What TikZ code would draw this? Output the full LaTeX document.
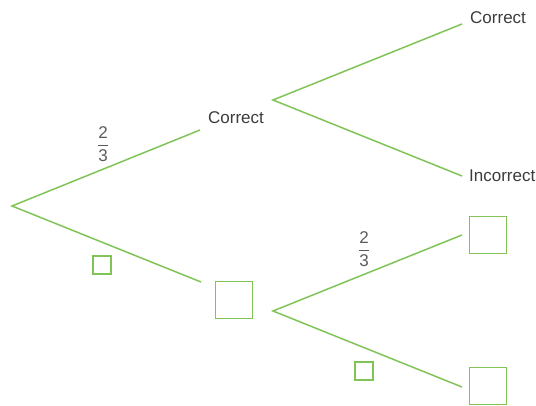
\documentclass[tikz,border=0pt]{standalone}
\usepackage{fontspec}
\usepackage{amsmath}
\setmainfont{Liberation Sans}
\definecolor{branch}{RGB}{128,196,88}
\definecolor{txt}{RGB}{60,60,60}
\definecolor{frac}{RGB}{90,90,90}
\begin{document}
\begin{tikzpicture}[x=1pt,y=-1pt,
  br/.style={draw=branch,line width=1.5pt},
  lab/.style={inner sep=0pt,text=txt,font=\fontsize{17}{17}\selectfont},
  bigbox/.style={draw=branch,line width=1.4pt,minimum width=37pt,minimum height=37pt,inner sep=0pt},
  smallbox/.style={draw=branch,line width=1.3pt,minimum width=18pt,minimum height=18pt,inner sep=0pt},
  fr/.style={inner sep=0pt,text=frac,font=\fontsize{17}{17}\selectfont}]
\useasboundingbox (0,0) rectangle (536,406);
\coordinate (root) at (12,206);
\coordinate (c1end) at (200,130);
\coordinate (b1end) at (201,282);
\coordinate (c1) at (273,100);
\coordinate (b1) at (273,311);
\coordinate (cc) at (462,24);
\coordinate (ci) at (462,176);
\coordinate (bc) at (462,235);
\coordinate (bi) at (462,387);
\node[lab,anchor=west] (lc1) at (208,118) {Correct};
\node[lab,anchor=west] (lcc) at (470,18) {Correct};
\node[lab,anchor=west] (lci) at (469,176) {Incorrect};
\node[bigbox] (box1) at (234,300) {};
\node[bigbox] (box2) at (488,235) {};
\node[bigbox] (box3) at (488,386) {};
\node[smallbox] (s1) at (102,265) {};
\node[smallbox] (s2) at (364,371) {};
\node[fr] (f1) at (103,144) {$\dfrac{\text{2}}{\text{3}}$};
\node[fr] (f2) at (364,249) {$\dfrac{\text{2}}{\text{3}}$};
\draw[br] (c1end) -- (root) -- (b1end);
\draw[br] (cc) -- (c1) -- (ci);
\draw[br] (bc) -- (b1) -- (bi);
\end{tikzpicture}
\end{document}
